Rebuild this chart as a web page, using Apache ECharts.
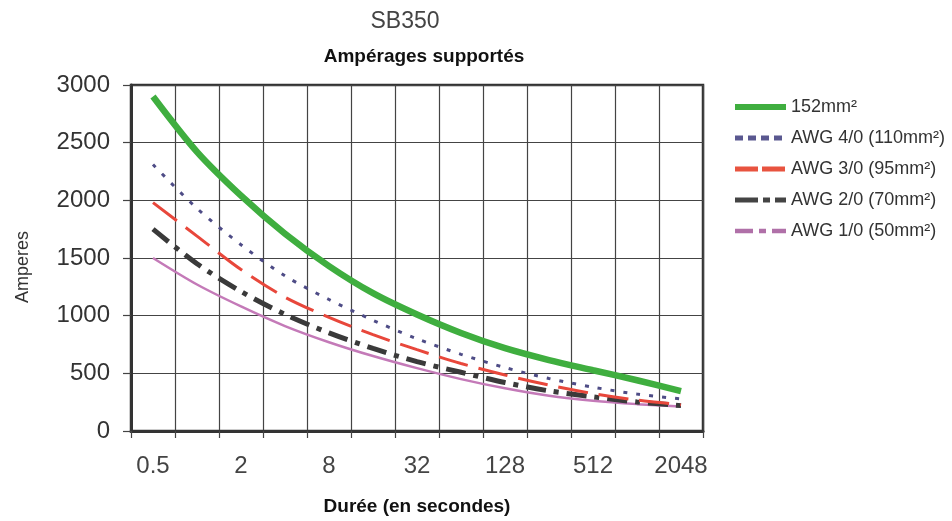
<!DOCTYPE html>
<html>
<head>
<meta charset="utf-8">
<script src="https://cdn.jsdelivr.net/npm/echarts@6/dist/echarts.min.js"></script>
<style>
html,body{margin:0;padding:0;background:#fff;}
#c{width:952px;height:521px;}
</style>
</head>
<body>
<div id="c"></div>
<script>
// Durée (s) categories
const durations = ['0.5','1','2','4','8','16','32','64','128','256','512','1024','2048'];
// Amperes per cable section
const s152 = [2900, 2420, 2040, 1710, 1430, 1195, 1010, 850, 718, 615, 527, 440, 345];
const awg40 = [2310, 1930, 1615, 1345, 1140, 960, 800, 665, 550, 455, 380, 320, 278];
const awg30 = [1980, 1690, 1400, 1160, 985, 835, 705, 585, 485, 398, 325, 268, 228];
const awg20 = [1750, 1450, 1210, 1011, 851, 716, 601, 509, 420, 348, 296, 252, 220];
const awg10 = [1500, 1270, 1080, 910, 770, 650, 545, 450, 370, 305, 262, 233, 212];
const seriesNames = ['152mm²', 'AWG 4/0 (110mm²)', 'AWG 3/0 (95mm²)', 'AWG 2/0 (70mm²)', 'AWG 1/0 (50mm²)'];
const yTicks = [0, 500, 1000, 1500, 2000, 2500, 3000];

const font = '"Liberation Sans", Arial, sans-serif';
const colors = ['#3fae3f', '#4e4c86', '#e8473b', '#3a3a3a', '#c47ab8'];
const chart = echarts.init(document.getElementById('c'), null, {renderer: 'canvas'});

function mk(name, data, color, width, type) {
  return {
    name: name, type: 'line', data: data, symbol: 'none', smooth: 0.3,
    lineStyle: {color: color, width: width, type: type, cap: 'butt'},
    itemStyle: {color: color},
    emphasis: {disabled: true}
  };
}

chart.setOption({
  animation: false,
  backgroundColor: '#fff',
  title: [
    {text: 'SB350', left: 400, top: 5, textAlign: 'center',
     textStyle: {fontFamily: font, fontSize: 23, fontWeight: 'normal', color: '#444'}},
    {text: 'Ampérages supportés', left: 419, top: 42, textAlign: 'center',
     textStyle: {fontFamily: font, fontSize: 19, fontWeight: 'bold', color: '#111'}}
  ],
  legend: {
    orient: 'vertical', left: 727, top: 92, itemWidth: 51, itemHeight: 14, itemGap: 11,
    itemStyle: {opacity: 0},
    textStyle: {fontFamily: font, fontSize: 18, lineHeight: 20, color: '#333'},
    data: [
      {name: seriesNames[0], lineStyle: {width: 6, type: 'solid', color: colors[0]}},
      {name: seriesNames[1], lineStyle: {width: 5, type: [8, 5], color: '#5a5890'}},
      {name: seriesNames[2], lineStyle: {width: 5, type: [23, 4], color: '#e8533f'}},
      {name: seriesNames[3], lineStyle: {width: 5, type: [23, 5, 7, 5], color: '#444'}},
      {name: seriesNames[4], lineStyle: {width: 4.5, type: [18, 6, 7, 6], color: '#b070a8'}}
    ]
  },
  grid: {left: 131, right: 249, top: 85, bottom: 88, show: true, borderColor: '#333', borderWidth: 2.5},
  xAxis: {
    type: 'category', data: durations, boundaryGap: true,
    name: 'Durée (en secondes)', nameLocation: 'middle', nameGap: 66,
    nameTextStyle: {fontFamily: font, fontSize: 19, fontWeight: 'bold', color: '#111'},
    axisLine: {lineStyle: {color: '#333', width: 3}},
    axisTick: {show: true, interval: 0, length: 7, lineStyle: {color: '#444', width: 1.2}},
    axisLabel: {interval: 1, margin: 23, fontFamily: font, fontSize: 24, color: '#444'},
    splitLine: {show: true, interval: 0, lineStyle: {color: '#444', width: 1.2}}
  },
  yAxis: {
    type: 'value', min: 0, max: 3000, interval: 500,
    name: 'Amperes', nameLocation: 'middle', nameGap: 99,
    nameTextStyle: {fontFamily: font, fontSize: 18, color: '#333', padding: [0, 0, 0, -18]},
    axisLine: {show: true, lineStyle: {color: '#333', width: 3}},
    axisTick: {show: true, length: 8, lineStyle: {color: '#444', width: 1.2}},
    axisLabel: {margin: 21, fontFamily: font, fontSize: 24, color: '#333',
      formatter: function (v) { return yTicks.indexOf(v) >= 0 ? String(v) : ''; }},
    splitLine: {show: true, lineStyle: {color: '#444', width: 1.2}}
  },
  series: [
    mk(seriesNames[4], awg10, colors[4], 2.5, 'solid'),
    mk(seriesNames[3], awg20, colors[3], 5, [20, 8, 5, 8]),
    mk(seriesNames[2], awg30, colors[2], 3, [30, 11]),
    mk(seriesNames[1], awg40, colors[1], 3, [4, 9]),
    mk(seriesNames[0], s152, colors[0], 6.5, 'solid')
  ]
});
</script>
</body>
</html>
